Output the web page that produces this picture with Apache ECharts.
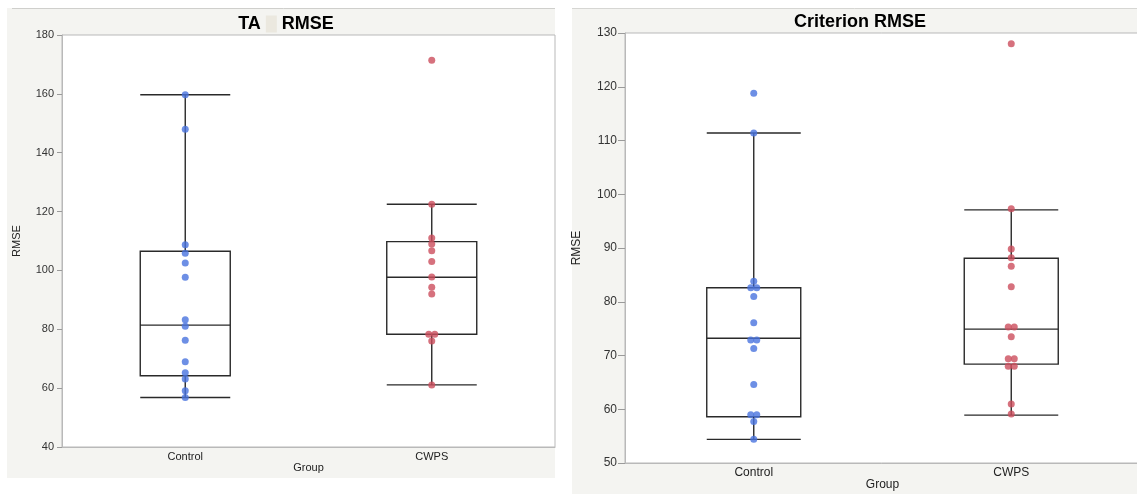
<!DOCTYPE html>
<html>
<head>
<meta charset="utf-8">
<script src="https://cdn.jsdelivr.net/npm/echarts@6/dist/echarts.min.js"></script>
<style>
  html, body { margin: 0; padding: 0; background: #fff; }
  #chart { width: 1137px; height: 494px; }
</style>
</head>
<body>
<div id="chart"></div>
<script>
// Groups shown on both panels
const groups = ['Control', 'CWPS'];

// TA RMSE: individual subject values
const taControl = [159.7, 148.0, 108.7, 105.8, 102.5, 97.7, 83.2, 81.0, 76.3, 69.0, 65.2, 63.1, 59.1, 56.8];
const taCWPS = [171.4, 122.5, 111.0, 109.0, 106.7, 103.0, 97.8, 94.3, 92.0, 78.3, 78.3, 76.0, 61.1];
// TA RMSE box summaries: [lower whisker, Q1, median, Q3, upper whisker]
const taBoxControl = [56.8, 64.2, 81.4, 106.5, 159.7];
const taBoxCWPS = [61.1, 78.3, 97.7, 109.8, 122.5];
const taTicks = { min: 40, max: 180, step: 20 };

// Criterion RMSE: individual subject values
const critControl = [118.8, 111.4, 83.8, 82.6, 82.6, 81.0, 76.1, 72.9, 72.9, 71.3, 64.6, 59.0, 59.0, 57.7, 54.4];
const critCWPS = [128.0, 97.3, 89.8, 88.2, 86.6, 82.8, 75.3, 75.3, 73.5, 69.4, 69.4, 68.0, 68.0, 61.0, 59.1];
// Criterion RMSE box summaries
const critBoxControl = [54.4, 58.6, 73.2, 82.6, 111.4];
const critBoxCWPS = [58.9, 68.4, 74.9, 88.1, 97.1];
const critTicks = { min: 50, max: 130, step: 10 };

const BLUE = '#4873de';
const RED = '#cc4d5d';
const FONT = '"Liberation Sans", Arial, Helvetica, sans-serif';

// Spread tied values side by side so both dots stay visible
function pointsFor(values, catIndex) {
  const seen = {};
  const counts = {};
  values.forEach(v => { counts[v] = (counts[v] || 0) + 1; });
  return values.map(v => {
    const n = counts[v];
    const k = seen[v] = (seen[v] || 0) + 1;
    const off = n > 1 ? (k - (n + 1) / 2) * 6 : 0;
    return { value: [catIndex, v], symbolOffset: [off, 0] };
  });
}

const panels = [
  { grid: { left: 62, top: 35, width: 493, height: 412 }, ticks: taTicks,
    control: taControl, cwps: taCWPS, boxes: [taBoxControl, taBoxCWPS],
    fontSize: 11, labelMargin: 4, groupGap: 15, nameGap: 40, tickLen: 5, boxWidth: 90 },
  { grid: { left: 625, top: 33, width: 515, height: 430 }, ticks: critTicks,
    control: critControl, cwps: critCWPS, boxes: [critBoxControl, critBoxCWPS],
    fontSize: 12, labelMargin: 4, groupGap: 16, nameGap: 42, tickLen: 7, boxWidth: 94 }
];

const option = {
  animation: false,
  backgroundColor: '#ffffff',
  graphic: [
    { type: 'rect', z: -10, shape: { x: 7, y: 8, width: 548, height: 470 },
      style: { fill: '#f4f4f1', stroke: null } },
    { type: 'line', z: -9, shape: { x1: 12, y1: 8.5, x2: 555, y2: 8.5 },
      style: { stroke: '#cfcfcc', lineWidth: 1 } },
    { type: 'rect', z: -10, shape: { x: 572, y: 8, width: 565, height: 486 },
      style: { fill: '#f4f4f1', stroke: null } },
    { type: 'line', z: -9, shape: { x1: 572, y1: 8.5, x2: 1137, y2: 8.5 },
      style: { stroke: '#d6d6d3', lineWidth: 1 } }
  ],
  title: [
    { text: '{t|TA }{g|}{t| RMSE}', left: 281, top: 10, textAlign: 'center',
      textStyle: { rich: {
        t: { fontFamily: FONT, fontWeight: 'bold', fontSize: 18, color: '#000' },
        g: { width: 11, height: 17, backgroundColor: '#ebe8df' }
      } } },
    { text: 'Criterion RMSE', left: 855, top: 8, textAlign: 'center',
      textStyle: { fontFamily: FONT, fontWeight: 'bold', fontSize: 18, color: '#000' } }
  ],
  grid: panels.map(p => Object.assign({
    show: true, backgroundColor: '#ffffff', borderColor: '#b9b9b9', borderWidth: 1,
    outerBoundsMode: 'none', containLabel: false
  }, p.grid)),
  xAxis: panels.map((p, i) => ({
    type: 'category', gridIndex: i, data: groups, boundaryGap: true,
    name: 'Group', nameLocation: 'middle', nameGap: p.groupGap, nameMoveOverlap: false,
    nameTextStyle: { fontFamily: FONT, fontSize: p.fontSize, color: '#222' },
    axisLine: { lineStyle: { color: '#b9b9b9' } },
    axisTick: { show: false },
    axisLabel: { fontFamily: FONT, fontSize: p.fontSize, color: '#222', margin: p.labelMargin },
    splitLine: { show: false }
  })),
  yAxis: panels.map((p, i) => ({
    type: 'value', gridIndex: i, min: p.ticks.min, max: p.ticks.max, interval: p.ticks.step,
    name: 'RMSE', nameLocation: 'middle', nameGap: p.nameGap, nameRotate: 90,
    nameTextStyle: { fontFamily: FONT, fontSize: p.fontSize, color: '#222' },
    axisLine: { show: true, lineStyle: { color: '#b9b9b9' } },
    axisTick: { show: true, length: p.tickLen, lineStyle: { color: '#9a9a9a' } },
    axisLabel: { fontFamily: FONT, fontSize: p.fontSize, color: '#333', margin: 8 },
    splitLine: { show: false }
  })),
  series: []
};

panels.forEach((p, i) => {
  option.series.push({
    type: 'boxplot', xAxisIndex: i, yAxisIndex: i, z: 2,
    boxWidth: [p.boxWidth, p.boxWidth],
    itemStyle: { color: 'rgba(255,255,255,0)', borderColor: '#2a2a2a', borderWidth: 1.4 },
    data: p.boxes
  });
  option.series.push({
    type: 'scatter', xAxisIndex: i, yAxisIndex: i, z: 5,
    symbol: 'circle', symbolSize: 7,
    itemStyle: { color: BLUE },
    data: pointsFor(p.control, 0)
  });
  option.series.push({
    type: 'scatter', xAxisIndex: i, yAxisIndex: i, z: 5,
    symbol: 'circle', symbolSize: 7,
    itemStyle: { color: RED },
    data: pointsFor(p.cwps, 1)
  });
});

const chart = echarts.init(document.getElementById('chart'), null, { renderer: 'canvas' });
chart.setOption(option);
</script>
</body>
</html>
